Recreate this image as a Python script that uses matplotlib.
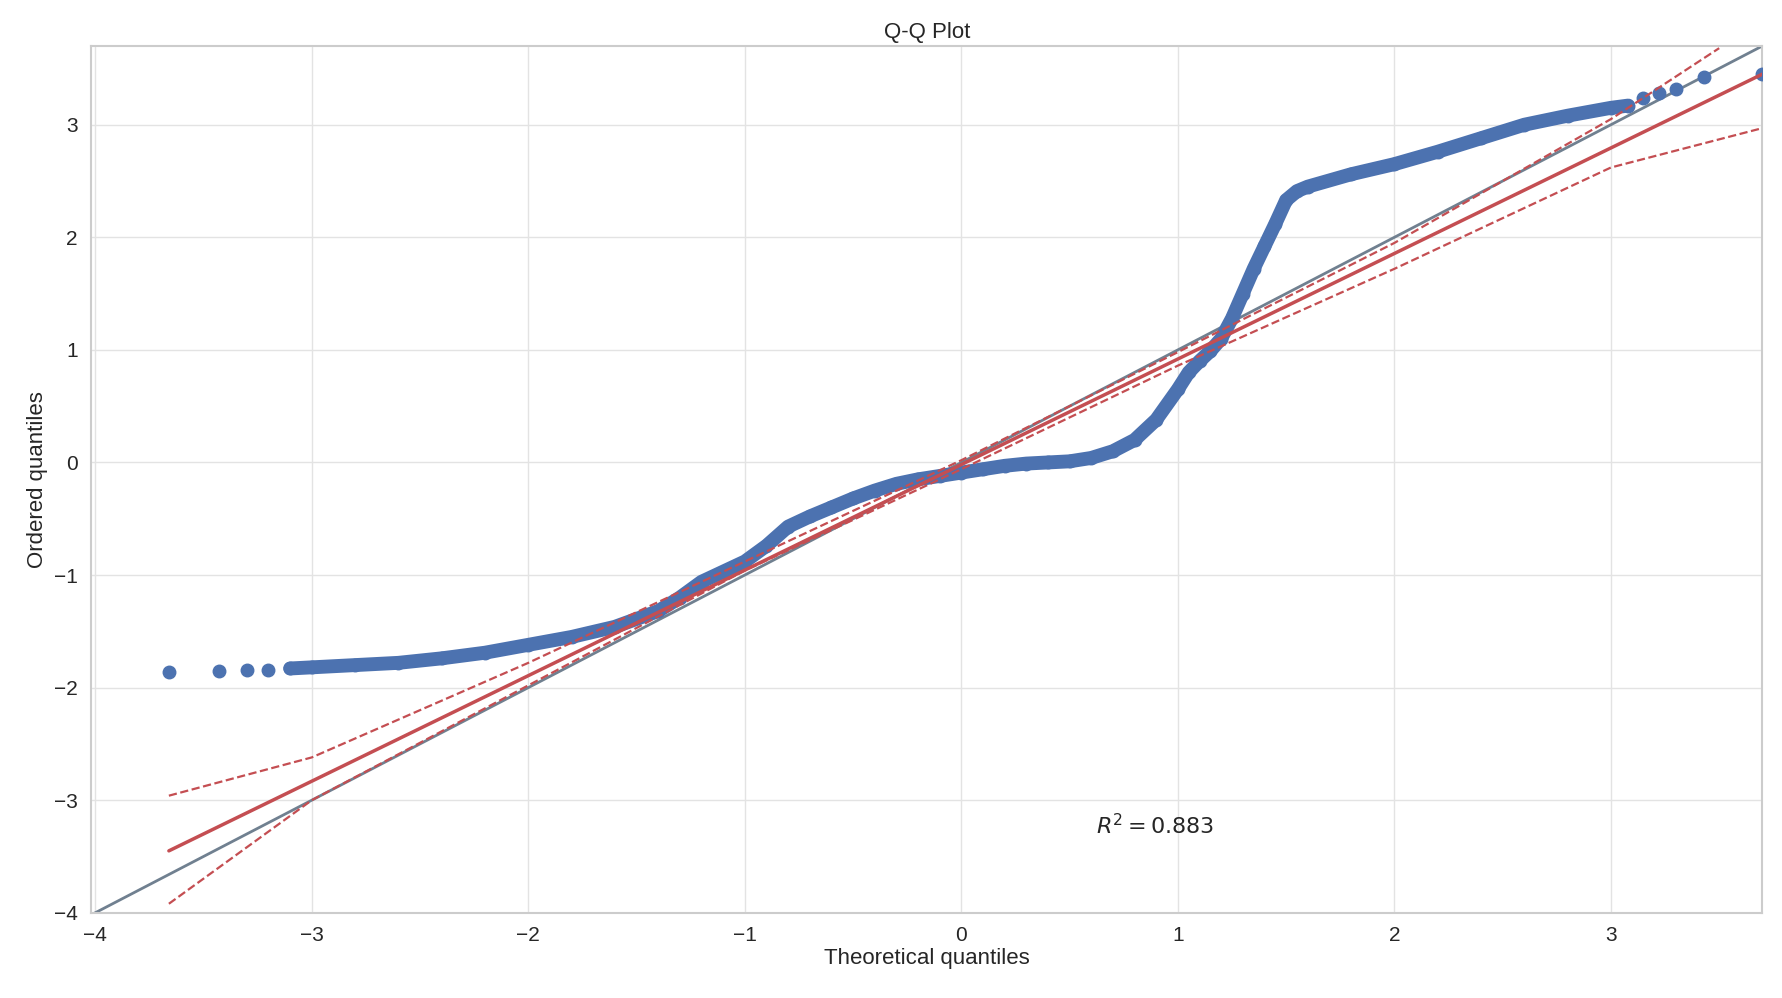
import matplotlib
matplotlib.use("Agg")
import matplotlib.pyplot as plt
import seaborn as sns

sns.set_theme(style="whitegrid")
plt.rcParams['font.family'] = ['Liberation Sans', 'DejaVu Sans']

theo = [-3.66,-3.43,-3.3,-3.2,-3.1,-3.0,-2.8,-2.6,-2.4,-2.2,-2.0,-1.8,-1.6,-1.4,-1.3,-1.2,-1.1,-1.0,-0.9,-0.8,-0.7,-0.6,-0.5,-0.4,-0.3,-0.2,-0.1,0.0,0.1,0.2,0.3,0.4,0.5,0.6,0.7,0.8,0.9,1.0,1.05,1.1,1.15,1.2,1.25,1.3,1.35,1.4,1.45,1.5,1.55,1.6,1.8,2.0,2.2,2.4,2.6,2.8,3.0,3.08,3.15,3.22,3.3,3.43,3.7]
ordered = [-1.86,-1.85,-1.84,-1.84,-1.83,-1.82,-1.80,-1.78,-1.74,-1.69,-1.62,-1.55,-1.46,-1.32,-1.20,-1.06,-0.97,-0.88,-0.74,-0.57,-0.48,-0.40,-0.32,-0.25,-0.19,-0.15,-0.12,-0.09,-0.06,-0.03,-0.01,0.0,0.01,0.04,0.10,0.20,0.38,0.65,0.80,0.90,0.99,1.10,1.28,1.50,1.72,1.92,2.12,2.33,2.41,2.45,2.56,2.65,2.76,2.88,3.0,3.08,3.15,3.17,3.24,3.28,3.32,3.42,3.45]
fit_x = [-3.66, 3.7]
fit_y = [-3.45, 3.45]
band_x_up = [-3.66,-3.0,-2.0,-1.0,0.0,1.0,2.0,3.0,3.5]
band_y_up = [-2.96,-2.62,-1.78,-0.88,0.02,0.98,1.95,3.05,3.68]
band_x_lo = [-3.66,-3.0,-2.0,-1.0,0.0,1.0,2.0,3.0,3.7]
band_y_lo = [-3.92,-3.0,-1.98,-0.96,-0.06,0.86,1.72,2.62,2.97]

fig = plt.figure(figsize=(17.83, 9.98), dpi=100)
ax = fig.add_axes([0.051, 0.0854, 0.9375, 0.8686])
ax.grid(color='#e3e3e3', lw=1)
ax.plot([-4.1, 3.8], [-4.1, 3.8], color='slategray', lw=2, zorder=2)
dense = slice(4, 58)
ax.plot(theo[dense], ordered[dense], color='#4c72b0', lw=10, solid_capstyle='round', solid_joinstyle='round', zorder=3)
ax.plot(theo, ordered, 'o', color='#4c72b0', ms=9, zorder=3)
ax.plot(fit_x, fit_y, color='#c44e52', lw=2.5, zorder=4)
ax.plot(band_x_up, band_y_up, '--', color='#c44e52', lw=1.6, zorder=4)
ax.plot(band_x_lo, band_y_lo, '--', color='#c44e52', lw=1.6, zorder=4)
ax.text(0.62, -3.3, r'$R^2 = 0.883$', fontsize=16)
ax.set_xlim(-4.02, 3.7)
ax.set_ylim(-4.0, 3.7)
ax.set_xticks(range(-4, 4))
ax.set_yticks(range(-4, 4))
ax.tick_params(labelsize=15)
for s in ax.spines.values():
    s.set_visible(True); s.set_color('#cccccc'); s.set_linewidth(1.5)
ax.set_title('Q-Q Plot', fontsize=16)
ax.set_xlabel('Theoretical quantiles', fontsize=16, labelpad=2)
ax.set_ylabel('Ordered quantiles', fontsize=16)
fig.savefig('out.png', dpi=100)
